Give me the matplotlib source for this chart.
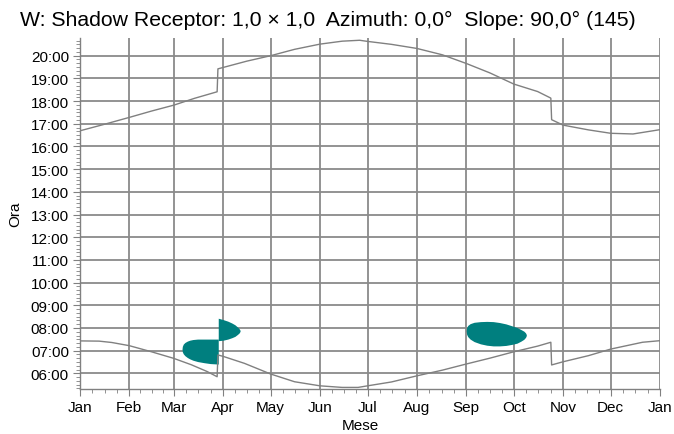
import numpy as np
import matplotlib.pyplot as plt
from matplotlib.ticker import FixedLocator, FuncFormatter, MultipleLocator

plt.rcParams['font.family'] = ['Liberation Sans', 'DejaVu Sans']

# ------------------ DATI ------------------
month_labels = ['Jan', 'Feb', 'Mar', 'Apr', 'May', 'Jun', 'Jul',
                'Aug', 'Sep', 'Oct', 'Nov', 'Dec', 'Jan']
month_starts = [0, 31, 59, 90, 120, 151, 181, 212, 243, 273, 304, 334, 365]

# alba (ora locale, con salto ora legale)
rise_day = [0, 12, 20, 31, 45, 59, 70, 80, 86.3, 86.8, 90, 103.5, 120, 135, 151,
            165, 175, 181, 196, 212, 228, 243, 258, 273, 288, 296.3, 296.8,
            304, 320, 334, 354, 365]
rise_hour = [7.43, 7.42, 7.36, 7.22, 6.95, 6.66, 6.38, 6.08, 5.85, 6.81, 6.75, 6.44,
             5.97, 5.63, 5.45, 5.38, 5.38, 5.45, 5.62, 5.89, 6.14, 6.41, 6.67, 6.95,
             7.2, 7.37, 6.37, 6.51, 6.78, 7.07, 7.37, 7.44]

# tramonto
set_day = [0, 15, 31, 45, 59, 72, 86.3, 86.8, 90, 105, 120, 135, 151, 165, 176,
           181, 196, 212, 228, 243, 258, 273, 288, 296.3, 296.8, 304, 320, 334,
           348, 365]
set_hour = [16.69, 16.97, 17.28, 17.56, 17.82, 18.12, 18.41, 19.42, 19.48, 19.76,
            20.0, 20.28, 20.51, 20.64, 20.68, 20.63, 20.5, 20.32, 20.04, 19.66,
            19.24, 18.75, 18.42, 18.13, 17.18, 16.94, 16.73, 16.58, 16.55, 16.74]

# periodi di ombreggiamento (giorno, ora inizio, ora fine)
sh1_day = [64.2, 64.4, 65, 66, 67.5, 69, 71, 74, 78, 82, 87.0]
sh1_start = [7.07, 6.95, 6.86, 6.78, 6.70, 6.64, 6.58, 6.52, 6.47, 6.43, 6.41]
sh1_end = [7.07, 7.19, 7.29, 7.36, 7.42, 7.46, 7.49, 7.51, 7.51, 7.51, 7.51]

sh2_day = [87.0, 90, 93, 95.5, 97.5, 99, 100, 100.5, 100.8]
sh2_start = [7.44, 7.46, 7.51, 7.57, 7.63, 7.71, 7.77, 7.82, 7.88]
sh2_end = [8.43, 8.37, 8.30, 8.22, 8.14, 8.05, 7.98, 7.93, 7.88]

sh3_day = [243.0, 243.3, 244, 245.5, 248, 252, 256, 260, 264, 268, 272, 275,
           277.5, 279.3, 280.3, 280.7, 280.9]
sh3_start = [7.88, 7.72, 7.62, 7.51, 7.40, 7.30, 7.24, 7.21, 7.21, 7.23, 7.28,
             7.33, 7.42, 7.50, 7.58, 7.63, 7.69]
sh3_end = [7.88, 8.02, 8.11, 8.19, 8.25, 8.28, 8.29, 8.28, 8.24, 8.18, 8.09,
           8.02, 7.93, 7.86, 7.79, 7.74, 7.69]

hours = list(range(6, 21))

# ------------------ GRAFICO ------------------
fig = plt.figure(figsize=(6.74, 4.35), dpi=100)
ax = fig.add_axes([80 / 674, 1 - 390 / 435, 580 / 674, 351 / 435])

grid_col = '#8a8a8a'
for d in month_starts:
    ax.axvline(d, color=grid_col, lw=1.3, zorder=1)
for h in hours:
    ax.axhline(h, color=grid_col, lw=1.3, zorder=1)

teal = '#007f7f'
for dd, s, e in [(sh1_day, sh1_start, sh1_end),
                 (sh2_day, sh2_start, sh2_end),
                 (sh3_day, sh3_start, sh3_end)]:
    ax.fill_between(dd, s, e, color=teal, lw=0, zorder=2)

ax.plot(rise_day, rise_hour, color='#808080', lw=1.0, zorder=3)
ax.plot(set_day, set_hour, color='#808080', lw=1.0, zorder=3)

ax.set_xlim(0, 365)
ax.set_ylim(5.31, 20.78)

ax.xaxis.set_major_locator(FixedLocator(month_starts))
ax.set_xticklabels(month_labels)
minor_x = []
for a, b in zip(month_starts[:-1], month_starts[1:]):
    minor_x += [a + (b - a) * k / 4 for k in (1, 2, 3)]
ax.xaxis.set_minor_locator(FixedLocator(minor_x))

ax.yaxis.set_major_locator(FixedLocator(hours))
ax.yaxis.set_major_formatter(FuncFormatter(lambda v, p: '%02d:00' % int(round(v))))
ax.yaxis.set_minor_locator(MultipleLocator(1 / 6))

for s in ['top', 'right']:
    ax.spines[s].set_visible(False)
for s in ['left', 'bottom']:
    ax.spines[s].set_color('#808080')
    ax.spines[s].set_linewidth(1.0)

ax.tick_params(which='major', length=5, color='#808080', labelsize=11, pad=3)
ax.tick_params(which='minor', length=3, color='#808080')

ax.set_xlabel('Mese', fontsize=11)
ax.set_ylabel('Ora', fontsize=11)
ax.xaxis.set_label_coords(0.483, -0.083)
ax.yaxis.set_label_coords(-0.1, 0.5)

fig.text(328 / 674, 1 - 20 / 435, 'W: Shadow Receptor: 1,0 \u00d7 1,0  Azimuth: 0,0\u00b0  Slope: 90,0\u00b0 (145)',
         ha='center', va='center', fontsize=15.3)

fig.savefig('out.png', dpi=100)
